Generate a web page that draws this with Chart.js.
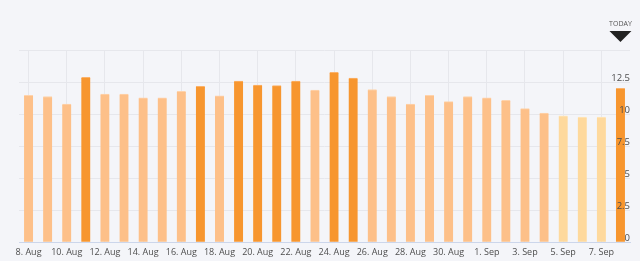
<!DOCTYPE html>
<html>
<head>
<meta charset="utf-8">
<script src="https://cdn.jsdelivr.net/npm/chart.js@4/dist/chart.umd.min.js"></script>
<style>
  html, body { margin: 0; padding: 0; background: #f4f5f9; }
  #wrap { width: 640px; height: 261px; position: relative; }
</style>
</head>
<body>
<div id="wrap"><canvas id="c"></canvas></div>
<script>
// ---- data ----
const categories = ['8. Aug','9. Aug','10. Aug','11. Aug','12. Aug','13. Aug','14. Aug','15. Aug','16. Aug','17. Aug',
  '18. Aug','19. Aug','20. Aug','21. Aug','22. Aug','23. Aug','24. Aug','25. Aug','26. Aug','27. Aug',
  '28. Aug','29. Aug','30. Aug','31. Aug','1. Sep','2. Sep','3. Sep','4. Sep','5. Sep','6. Sep','7. Sep','8. Sep'];
const values = [11.5, 11.4, 10.8, 12.9, 11.6, 11.6, 11.3, 11.3, 11.8, 12.2,
  11.45, 12.6, 12.3, 12.25, 12.6, 11.9, 13.3, 12.85, 11.95, 11.4,
  10.8, 11.5, 11.0, 11.4, 11.3, 11.1, 10.45, 10.1, 9.9, 9.8, 9.8, 12.05];
// day kind: 'high' = above usual, 'normal', 'low' = below usual
const dayKind = ['normal','normal','normal','high','normal','normal','normal','normal','normal','high',
  'normal','high','high','high','high','normal','high','high','normal','normal',
  'normal','normal','normal','normal','normal','normal','normal','normal','low','low','low','high'];
const yTicks = [0, 2.5, 5, 7.5, 10, 12.5, 15];
const todayLabel = 'TODAY';
const todayIndex = categories.length - 1;

// ---- styles ----
const kindColor = { high: '#f7962f', normal: '#fdc089', low: '#fed99d' };
const kindTop = { high: '#fbb26a', normal: '#fed3ac', low: '#ffe6bd' };
const FONT = '"Open Sans", "DejaVu Sans", sans-serif';

const todayMarker = {
  id: 'todayMarker',
  afterDraw(chart) {
    const ctx = chart.ctx;
    const x = chart.scales.x.getPixelForValue(todayIndex);
    ctx.save();
    ctx.fillStyle = '#555';
    ctx.font = '7px ' + FONT;
    ctx.textAlign = 'center';
    ctx.textBaseline = 'middle';
    ctx.fillText(todayLabel, x, 24);
    ctx.fillStyle = '#222';
    ctx.beginPath();
    ctx.moveTo(x - 11, 31);
    ctx.lineTo(x + 11, 31);
    ctx.lineTo(x, 42);
    ctx.closePath();
    ctx.fill();
    ctx.restore();
  }
};

new Chart(document.getElementById('c'), {
  type: 'bar',
  data: {
    labels: categories,
    datasets: [{
      data: values,
      backgroundColor: dayKind.map(k => kindColor[k]),
      borderColor: dayKind.map(k => kindTop[k]),
      borderWidth: { top: 1, left: 0, right: 0, bottom: 0 },
      borderSkipped: 'start',
      barThickness: 9
    }]
  },
  options: {
    responsive: true,
    maintainAspectRatio: false,
    animation: false,
    layout: { padding: { left: 19, right: 10, top: 50.5, bottom: 0 } },
    plugins: { legend: { display: false }, tooltip: { enabled: false } },
    scales: {
      x: {
        afterFit: s => { s.height = 18.7; },
        grid: {
          offset: false,
          drawTicks: false,
          color: ctx => (ctx.index % 2 === 0 ? '#e6e7ec' : 'rgba(0,0,0,0)'),
          lineWidth: 1
        },
        border: { display: true, color: '#ccd6eb', width: 1 },
        ticks: {
          autoSkip: false,
          maxRotation: 0,
          padding: 5,
          color: '#4d4d4d',
          font: { family: FONT, size: 9 },
          callback: (v, i) => (i % 2 === 0 ? categories[i] : '')
        }
      },
      y: {
        position: 'right',
        min: 0,
        max: 15,
        z: 1,
        afterBuildTicks: scale => { scale.ticks = yTicks.map(v => ({ value: v })); },
        grid: { drawTicks: false, color: '#e6e7ec', lineWidth: 1, z: -1 },
        border: { display: false },
        ticks: {
          z: 1,
          mirror: true,
          padding: 0,
          labelOffset: -4,
          color: '#4d4d4d',
          font: { family: FONT, size: 9.5 },
          callback: v => (v === 15 ? '' : String(v))
        }
      }
    }
  },
  plugins: [todayMarker]
});
</script>
</body>
</html>
